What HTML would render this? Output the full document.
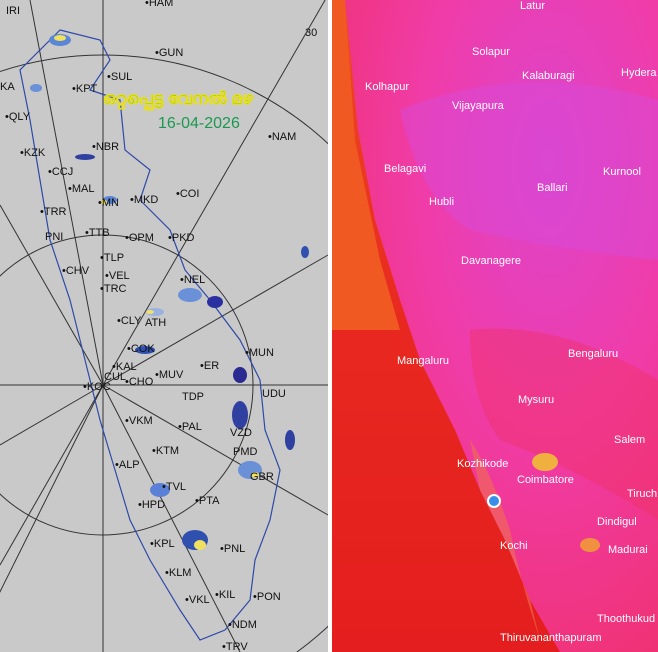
<!DOCTYPE html>
<html><head><meta charset="utf-8"><style>
html,body{margin:0;padding:0;background:#fff;width:658px;height:652px;overflow:hidden}
svg{display:block}
text{font-family:"Liberation Sans",sans-serif}
</style></head><body>
<svg width="658" height="652" viewBox="0 0 658 652" xmlns="http://www.w3.org/2000/svg">
<defs>
<radialGradient id="land" cx="0.65" cy="0.25" r="0.9">
<stop offset="0" stop-color="#dd44cc"/><stop offset="0.45" stop-color="#f03ca8"/><stop offset="1" stop-color="#f0306a"/>
</radialGradient>
<linearGradient id="sea" x1="0" y1="0" x2="0" y2="1">
<stop offset="0" stop-color="#ee4a22"/><stop offset="0.5" stop-color="#e82820"/><stop offset="1" stop-color="#e41e1e"/>
</linearGradient>
</defs>
<rect x="0" y="0" width="328" height="652" fill="#c9c9c9"/>
<g stroke="#333" stroke-width="1" fill="none">
<circle cx="103" cy="385" r="150"/>
<circle cx="103" cy="385" r="330"/>
<line x1="103" y1="385" x2="103" y2="0"/>
<line x1="103" y1="385" x2="103" y2="652"/>
<line x1="103" y1="385" x2="0" y2="385"/>
<line x1="103" y1="385" x2="328" y2="385"/>
<line x1="103" y1="385" x2="328" y2="-5"/>
<line x1="103" y1="385" x2="328" y2="255"/>
<line x1="103" y1="385" x2="328" y2="515"/>
<line x1="103" y1="385" x2="240" y2="652"/>
<line x1="103" y1="385" x2="0" y2="205"/>
<line x1="103" y1="385" x2="0" y2="445"/>
<line x1="103" y1="385" x2="0" y2="565"/>
<line x1="103" y1="385" x2="-30" y2="652"/>
<line x1="103" y1="385" x2="30" y2="0"/>
</g>
<path d="M60,30 L100,40 L110,60 L90,90 L120,100 L125,150 L150,170 L140,200 L170,230 L185,270 L210,300 L240,340 L260,380 L265,430 L280,470 L270,520 L255,560 L250,600 L225,630 L200,640 L180,610 L150,560 L130,520 L115,470 L100,420 L85,360 L70,300 L50,240 L40,180 L30,120 L20,70 Z" fill="none" stroke="#2e4aa8" stroke-width="1.2"/>
<g>
<ellipse cx="60" cy="40" rx="11" ry="6" fill="#5a86d8"/><ellipse cx="60" cy="38" rx="6" ry="3" fill="#f0e060"/>
<ellipse cx="36" cy="88" rx="6" ry="4" fill="#6a90d8"/>
<ellipse cx="85" cy="157" rx="10" ry="3" fill="#3040a0"/>
<ellipse cx="110" cy="200" rx="7" ry="4" fill="#5a86d8"/><ellipse cx="104" cy="202" rx="3" ry="2" fill="#f0e050"/>
<ellipse cx="190" cy="295" rx="12" ry="7" fill="#6a90d8"/><ellipse cx="215" cy="302" rx="8" ry="6" fill="#2a30a0"/>
<ellipse cx="155" cy="312" rx="9" ry="4" fill="#9ab2e0"/><ellipse cx="150" cy="312" rx="4" ry="2" fill="#f0e070"/>
<ellipse cx="145" cy="350" rx="10" ry="4" fill="#3050b0"/>
<ellipse cx="240" cy="375" rx="7" ry="8" fill="#2a2a90"/>
<ellipse cx="240" cy="415" rx="8" ry="14" fill="#3040a0"/>
<ellipse cx="250" cy="470" rx="12" ry="9" fill="#6a90d8"/><ellipse cx="255" cy="475" rx="4" ry="3" fill="#f0e060"/>
<ellipse cx="160" cy="490" rx="10" ry="7" fill="#5a80d8"/>
<ellipse cx="195" cy="540" rx="13" ry="10" fill="#3050b0"/><ellipse cx="200" cy="545" rx="6" ry="5" fill="#f0e060"/>
<ellipse cx="290" cy="440" rx="5" ry="10" fill="#3040a0"/>
<ellipse cx="305" cy="252" rx="4" ry="6" fill="#3050b0"/>
</g>
<g font-size="11" fill="#111">
<text x="145" y="6">•HAM</text><text x="6" y="14">IRI</text><text x="155" y="56">•GUN</text>
<text x="305" y="36">30</text><text x="72" y="92">•KPT</text><text x="107" y="80">•SUL</text>
<text x="0" y="90">KA</text><text x="5" y="120">•QLY</text><text x="268" y="140">•NAM</text>
<text x="20" y="156">•KZK</text><text x="92" y="150">•NBR</text><text x="48" y="175">•CCJ</text>
<text x="68" y="192">•MAL</text><text x="98" y="206">•MN</text><text x="130" y="203">•MKD</text>
<text x="176" y="197">•COI</text><text x="40" y="215">•TRR</text><text x="45" y="240">PNI</text>
<text x="85" y="236">•TTB</text><text x="125" y="241">•OPM</text><text x="168" y="241">•PKD</text>
<text x="62" y="274">•CHV</text><text x="100" y="261">•TLP</text><text x="105" y="279">•VEL</text>
<text x="100" y="292">•TRC</text><text x="180" y="283">•NEL</text><text x="117" y="324">•CLY</text>
<text x="145" y="326">ATH</text><text x="127" y="352">•COK</text><text x="112" y="370">•KAL</text>
<text x="104" y="380">CUL</text><text x="83" y="390">•KOC</text><text x="125" y="385">•CHO</text>
<text x="155" y="378">•MUV</text><text x="200" y="369">•ER</text><text x="245" y="356">•MUN</text>
<text x="262" y="397">UDU</text><text x="182" y="400">TDP</text><text x="125" y="424">•VKM</text>
<text x="178" y="430">•PAL</text><text x="230" y="436">VZD</text><text x="233" y="455">PMD</text>
<text x="152" y="454">•KTM</text><text x="115" y="468">•ALP</text><text x="162" y="490">•TVL</text>
<text x="250" y="480">GBR</text><text x="138" y="508">•HPD</text><text x="195" y="504">•PTA</text>
<text x="150" y="547">•KPL</text><text x="220" y="552">•PNL</text><text x="165" y="576">•KLM</text>
<text x="185" y="603">•VKL</text><text x="215" y="598">•KIL</text><text x="253" y="600">•PON</text>
<text x="228" y="628">•NDM</text><text x="222" y="650">•TRV</text>
</g>
<text x="103" y="104" font-size="17" font-weight="bold" fill="#1a9a30" stroke="#e8e020" stroke-width="0.6">ഒറ്റപ്പെട്ട വേനൽ മഴ</text>
<text x="158" y="128" font-size="16" fill="#1a9a50">16-04-2026</text>
<rect x="328" y="0" width="4" height="652" fill="#fff"/>
<rect x="332" y="0" width="326" height="652" fill="url(#sea)"/>
<path d="M332,0 L332,330 L400,330 L380,260 L355,140 L345,0 Z" fill="#f05a22"/>
<path d="M345,0 L658,0 L658,652 L560,652 L530,600 L505,540 L480,490 L455,430 L420,360 L400,300 L375,220 L358,130 Z" fill="url(#land)"/>
<path d="M400,110 Q520,60 658,100 L658,260 Q560,250 470,230 Q420,200 400,110Z" fill="#d84ad8" opacity="0.5"/>
<path d="M470,330 Q560,320 658,380 L658,520 Q580,470 500,440 Q470,400 470,330Z" fill="#f03060" opacity="0.4"/>
<path d="M470,440 Q490,470 510,530 Q520,580 540,640 L530,600 L505,540 L480,490 Z" fill="#f07050" opacity="0.6"/>
<ellipse cx="545" cy="462" rx="13" ry="9" fill="#f0b040"/>
<ellipse cx="590" cy="545" rx="10" ry="7" fill="#f09040"/>
<circle cx="494" cy="501" r="6" fill="#3a8ee8" stroke="#fff" stroke-width="2"/>
<g font-size="11" fill="#fff">
<text x="520" y="9">Latur</text><text x="472" y="55">Solapur</text><text x="522" y="79">Kalaburagi</text>
<text x="621" y="76">Hydera</text><text x="365" y="90">Kolhapur</text><text x="452" y="109">Vijayapura</text>
<text x="384" y="172">Belagavi</text><text x="603" y="175">Kurnool</text><text x="429" y="205">Hubli</text>
<text x="537" y="191">Ballari</text><text x="461" y="264">Davanagere</text><text x="568" y="357">Bengaluru</text>
<text x="397" y="364">Mangaluru</text><text x="518" y="403">Mysuru</text><text x="614" y="443">Salem</text>
<text x="457" y="467">Kozhikode</text><text x="517" y="483">Coimbatore</text><text x="627" y="497">Tiruch</text>
<text x="597" y="525">Dindigul</text><text x="500" y="549">Kochi</text><text x="608" y="553">Madurai</text>
<text x="597" y="622">Thoothukud</text><text x="500" y="641">Thiruvananthapuram</text>
</g>
</svg>
</body></html>
